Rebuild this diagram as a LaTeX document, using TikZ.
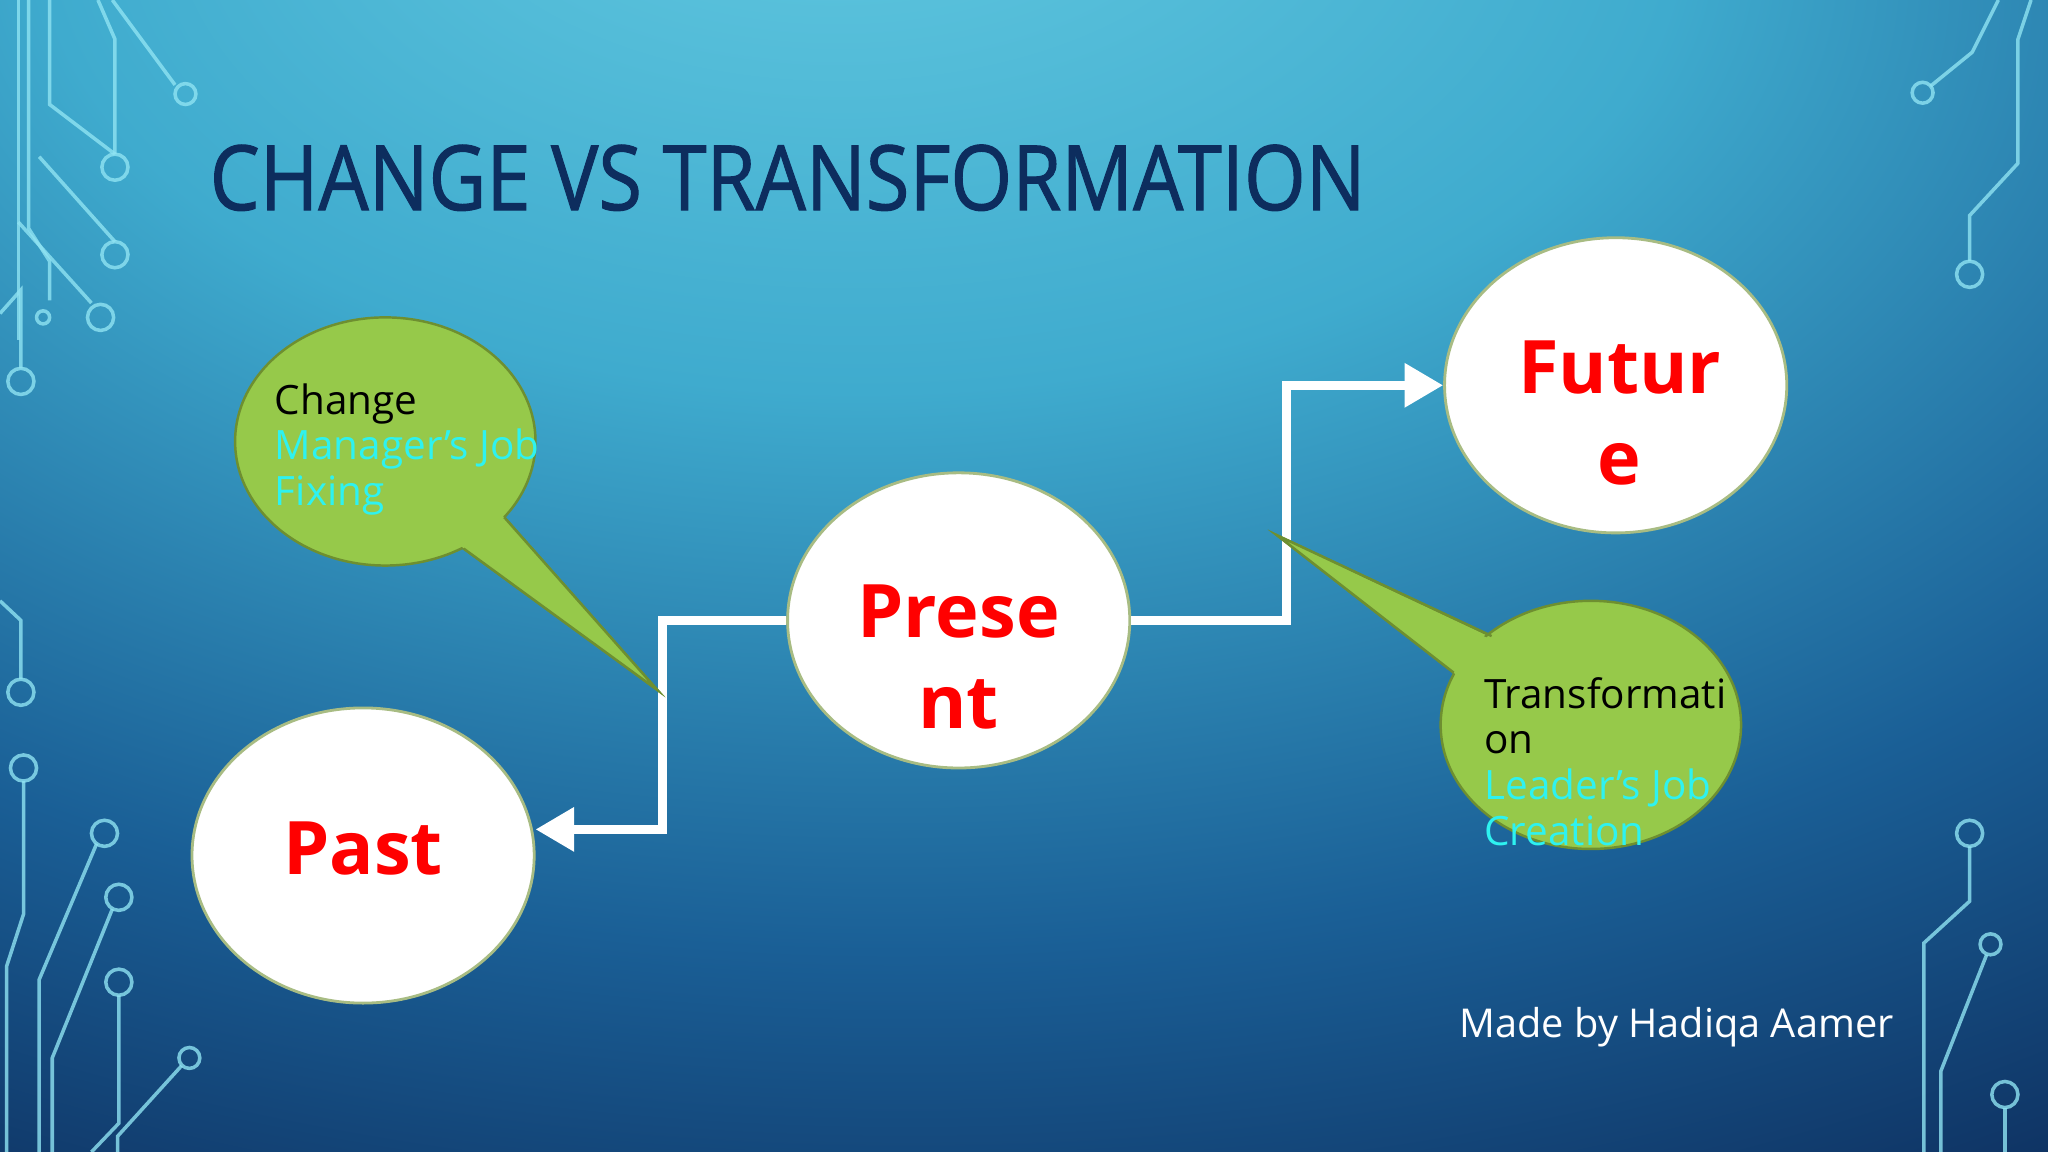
\documentclass[tikz,border=0pt]{standalone}
\usepackage{fontspec}
\setmainfont{Open Sans}
\usetikzlibrary{shapes.geometric,arrows.meta}
\definecolor{titleblue}{HTML}{0D2D5E}
\definecolor{callgreen}{HTML}{96C94A}
\definecolor{callborder}{HTML}{6E8F30}
\definecolor{txtcyan}{HTML}{2EF2F0}
\definecolor{circ}{HTML}{8FE3F2}
\definecolor{bgA}{HTML}{66CCE2}
\definecolor{bgB}{HTML}{3FABCE}
\definecolor{bgC}{HTML}{1A5F96}
\definecolor{bgD}{HTML}{0B2452}
\pgfdeclareradialshading{bgshade}{\pgfpoint{-5bp}{35bp}}{color(0bp)=(bgA); color(20bp)=(bgB); color(38bp)=(bgC); color(55bp)=(bgD); color(100bp)=(bgD)}
\begin{document}
\begin{tikzpicture}[x=0.013061cm,y=-0.013061cm,
  bubble/.style={ellipse,fill=white,draw=callborder!60,line width=0.8pt,minimum width=262*0.013061cm,minimum height=226*0.013061cm,inner sep=0pt},
  btext/.style={align=center,text=red,inner sep=0pt,font=\fontsize{21}{26}\selectfont\bfseries},
  link/.style={white,line width=2.6pt},
  callout/.style={fill=callgreen,draw=callborder,line width=0.7pt},
  ctext/.style={anchor=north west,align=left,inner sep=0pt,font=\fontsize{11.5}{13}\selectfont},
  wire/.style={circ,line width=1pt,opacity=0.8},
  pad/.style={circ,line width=1pt,opacity=0.8,fill=none}]
% background
\begin{scope}[y=0.013061cm]
\shade[shading=bgshade] (0,-882) rectangle (1568,0);
\end{scope}
\useasboundingbox (0,0) rectangle (1568,882);
% circuit decorations
\draw[wire] (14,0)--(14,260); \draw[wire] (22,0)--(22,175)--(38,200)--(38,230);
\draw[wire] (38,0)--(38,80)--(88,118); \draw[wire] (75,0)--(88,30)--(88,118);
\draw[wire] (86,0)--(134,65); \draw[wire] (30,120)--(88,185); \draw[wire] (14,170)--(70,232);
\draw[wire] (0,240)--(16,222)--(16,282);
\draw[pad] (142,72) circle (8); \draw[pad] (88,128) circle (10); \draw[pad] (88,195) circle (10);
\draw[pad] (77,243) circle (10); \draw[pad] (33,243) circle (5); \draw[pad] (16,292) circle (10);
\draw[wire] (0,460)--(16,475)--(16,520); \draw[pad] (16,530) circle (10);
\draw[pad] (18,588) circle (10); \draw[wire] (18,598)--(18,700)--(5,740)--(5,882);
\draw[pad] (80,638) circle (10); \draw[wire] (74,646)--(30,750)--(30,882);
\draw[pad] (91,687) circle (10); \draw[wire] (86,696)--(40,810)--(40,882);
\draw[pad] (91,752) circle (10); \draw[wire] (91,762)--(91,860)--(70,882);
\draw[pad] (145,810) circle (8); \draw[wire] (139,816)--(90,870)--(90,882);
\draw[wire] (1530,0)--(1510,40)--(1478,66); \draw[pad] (1472,71) circle (8);
\draw[wire] (1555,0)--(1545,30)--(1545,125)--(1508,165)--(1508,200); \draw[pad] (1508,210) circle (10);
\draw[pad] (1508,638) circle (10); \draw[wire] (1508,648)--(1508,690)--(1473,722)--(1473,882);
\draw[pad] (1524,723) circle (8); \draw[wire] (1521,731)--(1486,820)--(1486,882);
\draw[pad] (1535,838) circle (10); \draw[wire] (1535,848)--(1535,882);
% title
\node[anchor=south west,inner sep=0pt,text=titleblue] (title) at (160,162) {\resizebox{885\dimexpr 0.013061cm\relax}{50\dimexpr 0.013061cm\relax}{\fontsize{26}{30}\selectfont\addfontfeature{FakeBold=1.2}CHANGE VS TRANSFORMATION}};
% bubbles
\node[bubble] (future) at (1237,295) {};
\node[bubble] (present) at (734,475) {};
\node[bubble] (past) at (278,655) {};
\node[btext] (futuret) at (1240,316) {Futur\\e};
\node[btext] (presentt) at (734,503) {Prese\\nt};
\node[btext] (pastt) at (278,650) {Past};
% connectors
\coordinate (c1) at (507,475); \coordinate (c2) at (507,635); \coordinate (pe) at (410,635);
\coordinate (c3) at (985,475); \coordinate (c4) at (985,295);
\draw[link,-{Triangle[length=11pt,width=12pt]}] (present.west) -- (c1) -- (c2) -- (pe);
\draw[link,-{Triangle[length=11pt,width=12pt]}] (present.east) -- (c3) -- (c4) -- (future.west);
% left callout
\coordinate (t1) at (503,528);
\fill[callout,draw=callborder] (355,420)--(t1)--(386,396)--cycle;
\node[ellipse,callout,minimum width=230*0.013061cm,minimum height=190*0.013061cm] (cl) at (295,338) {};
\fill[callgreen] (350,416)--(t1)--(383,393)--cycle;
\draw[callborder,line width=0.7pt] (355,420)--(t1)--(386,396);
\node[ctext] (ct) at (210,293) {Change\\\textcolor{txtcyan}{Manager's Job}\\\textcolor{txtcyan}{Fixing}};
% right callout
\coordinate (t2) at (978,410);
\fill[callout] (1142,487)--(t2)--(1113,515)--cycle;
\node[ellipse,callout,minimum width=230*0.013061cm,minimum height=190*0.013061cm] (cr) at (1218,555) {};
\fill[callgreen] (1146,492)--(t2)--(1118,519)--cycle;
\draw[callborder,line width=0.7pt] (1142,487)--(t2)--(1113,515);
\node[ctext] (crt) at (1136,518) {Transformati\\on\\\textcolor{txtcyan}{Leader's Job}\\\textcolor{txtcyan}{Creation}};
% credit
\node[anchor=south west,inner sep=0pt,text=white,font=\fontsize{11.3}{14}\selectfont] (credit) at (1117,802) {Made by Hadiqa Aamer};
\end{tikzpicture}
\end{document}
